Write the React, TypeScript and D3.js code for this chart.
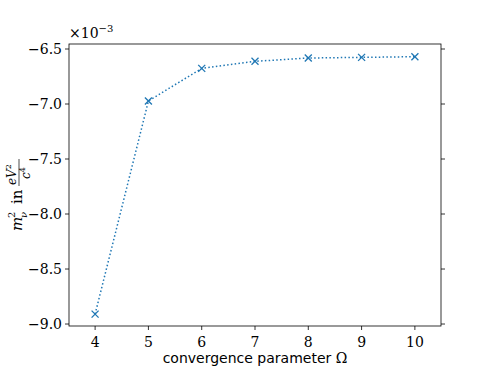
import React from 'react';
import * as d3 from 'd3';

// convergence parameter Ω and resulting m_ν² (×10⁻³ eV²/c⁴)
const omegas = [4, 5, 6, 7, 8, 9, 10];
const mass2 = [-8.91, -6.973, -6.676, -6.612, -6.582, -6.576, -6.570];
const xTicks = [4, 5, 6, 7, 8, 9, 10];
const yTicks = [-6.5, -7.0, -7.5, -8.0, -8.5, -9.0];

const W = 490;
const H = 368;
const left = 69, right = 441, top = 44, bottom = 326;
const color = '#1f77b4';
const serif = '"DejaVu Serif", "Liberation Serif", serif';
const sans = '"DejaVu Sans", "Liberation Sans", sans-serif';

export default function App() {
    const x = d3.scaleLinear().domain([3.51, 10.49]).range([left, right]);
    const y = d3.scaleLinear().domain([-6.4545, -9.018]).range([top, bottom]);

    const pts = omegas.map((o, i) => [x(o), y(mass2[i])] as [number, number]);
    const line = d3.line()(pts) ?? '';

    const minus = (v: number) => (v < 0 ? '\u2212' : '') + Math.abs(v).toFixed(1);

    return (
        <svg width={W} height={H} style={{ position: 'absolute', left: 0, top: 0, background: '#fff' }}>
            <rect x={0} y={0} width={W} height={H} fill="#fff" />

            {/* data */}
            <path d={line} fill="none" stroke={color} strokeWidth={1.5} strokeDasharray="1.5,2.3" />
            {pts.map(([px, py], i) => (
                <g key={i} stroke={color} strokeWidth={1.3}>
                    <line x1={px - 3.5} y1={py - 3.5} x2={px + 3.5} y2={py + 3.5} />
                    <line x1={px - 3.5} y1={py + 3.5} x2={px + 3.5} y2={py - 3.5} />
                </g>
            ))}

            {/* frame */}
            <rect x={left} y={top} width={right - left} height={bottom - top} fill="none" stroke="#000" strokeWidth={0.8} />

            {/* y ticks (left and right) */}
            {yTicks.map(t => (
                <g key={t}>
                    <line x1={left - 4} x2={left} y1={y(t)} y2={y(t)} stroke="#000" strokeWidth={0.8} />
                    <line x1={right} x2={right + 4} y1={y(t)} y2={y(t)} stroke="#000" strokeWidth={0.8} />
                    <text x={left - 7} y={y(t) + 5} textAnchor="end" fontFamily={serif} fontSize={14}>
                        {minus(t)}
                    </text>
                </g>
            ))}

            {/* x ticks */}
            {xTicks.map(t => (
                <g key={t}>
                    <line x1={x(t)} x2={x(t)} y1={bottom} y2={bottom + 4} stroke="#000" strokeWidth={0.8} />
                    <text x={x(t)} y={bottom + 21} textAnchor="middle" fontFamily={serif} fontSize={14}>
                        {t}
                    </text>
                </g>
            ))}

            {/* offset text */}
            <text x={69} y={38} fontFamily={serif} fontSize={14}>
                ×10<tspan dy={-6} fontSize={10}>−3</tspan>
            </text>

            {/* x label */}
            <text x={(left + right) / 2} y={363} textAnchor="middle" fontFamily={sans} fontSize={14}>
                convergence parameter <tspan fontFamily={serif}>Ω</tspan>
            </text>

            {/* y label */}
            <g transform="translate(22,188) rotate(-90)" fontFamily={serif}>
                <text x={-43} y={0} fontSize={15} fontStyle="italic">m</text>
                <text x={-30} y={-7} fontSize={10}>2</text>
                <text x={-30} y={5} fontSize={10} fontStyle="italic">ν</text>
                <text x={-16} y={0} fontSize={15}>in</text>
                <text x={3} y={-6} fontSize={12} fontStyle="italic">
                    eV<tspan dy={-5} fontSize={8} fontStyle="normal">2</tspan>
                </text>
                <line x1={2} x2={29} y1={-3} y2={-3} stroke="#000" strokeWidth={0.7} />
                <text x={9} y={8} fontSize={12} fontStyle="italic">
                    c<tspan dy={-5} fontSize={8} fontStyle="normal">4</tspan>
                </text>
            </g>
        </svg>
    );
}
